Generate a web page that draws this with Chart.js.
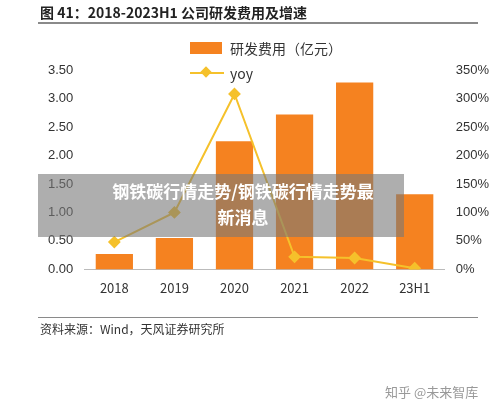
<!DOCTYPE html>
<html><head><meta charset="utf-8">
<script src="https://cdn.jsdelivr.net/npm/chart.js@4"></script>
<style>
body{margin:0;width:500px;height:411px;background:#fff;font-family:"Noto Sans CJK SC",sans-serif;position:relative;overflow:hidden}
#wrap{position:absolute;left:0;top:0;width:500px;height:411px}
.abs{position:absolute}
</style></head><body>
<div id="wrap"><canvas id="c" width="500" height="411"></canvas></div>
<div class="abs" style="left:40px;top:2px;font-size:14px;font-weight:bold;color:#222">图 41：2018-2023H1 公司研发费用及增速</div>
<div class="abs" style="left:38px;top:22px;width:440px;border-top:2px solid #8a8a8a"></div>
<div class="abs" style="left:190px;top:42px;width:32px;height:12px;background:#f58220"></div>
<div class="abs" style="left:230px;top:38px;font-size:14px;color:#333">研发费用（亿元）</div>
<div class="abs" style="left:190px;top:72px;width:34px;border-top:2px solid #f5c12b"></div>
<div class="abs" style="left:202px;top:68px;width:8px;height:8px;background:#f5c12b;transform:rotate(45deg)"></div>
<div class="abs" style="left:230px;top:63px;font-size:14px;color:#333">yoy</div>
<div class="abs" style="left:38px;top:174px;width:366px;height:63px;background:rgba(120,120,120,0.6)"></div>
<div class="abs" style="left:60px;top:178px;width:366px;text-align:center;font-size:17px;font-weight:bold;color:#fff;line-height:26px">钢铁碳行情走势/钢铁碳行情走势最<br>新消息</div>
<div class="abs" style="left:38px;top:317px;width:440px;border-top:1px solid #8a8a8a"></div>
<div class="abs" style="left:40px;top:320px;font-size:12px;color:#333">资料来源：Wind，天风证券研究所</div>
<div class="abs" style="left:385px;top:382px;font-size:13px;color:#999">知乎 @未来智库</div>
<script>
const categories=["2018","2019","2020","2021","2022","23H1"];
const rdExpense=[0.27,0.55,2.25,2.72,3.28,1.32];
const yoy=[48,100,308,22,20,2];
const leftTicks=[0,0.5,1,1.5,2,2.5,3,3.5];
new Chart(document.getElementById('c'),{
data:{labels:categories,datasets:[
{type:'line',data:yoy,yAxisID:'y1',borderColor:'#f5c12b',backgroundColor:'#f5c12b',borderWidth:2,pointStyle:'rectRot',pointRadius:5,tension:0},
{type:'bar',data:rdExpense,yAxisID:'y',backgroundColor:'#f58220',barPercentage:0.62,categoryPercentage:1}
]},
options:{responsive:false,animation:false,
layout:{padding:{top:70,bottom:112,left:45,right:8}},
plugins:{legend:{display:false},tooltip:{enabled:false}},
scales:{
x:{grid:{display:false},border:{color:'#bbb'},ticks:{color:'#333',font:{size:13,family:'Noto Sans CJK SC'}}},
y:{min:0,max:3.5,afterBuildTicks:a=>{a.ticks=leftTicks.map(v=>({value:v}))},grid:{display:false},border:{display:false},ticks:{color:'#333',font:{size:13},callback:v=>v.toFixed(2)}},
y1:{position:'right',min:0,max:350,ticks:{stepSize:50,color:'#333',font:{size:13},callback:v=>v+'%'},grid:{display:false},border:{display:false}}
}}});
</script>
</body></html>
